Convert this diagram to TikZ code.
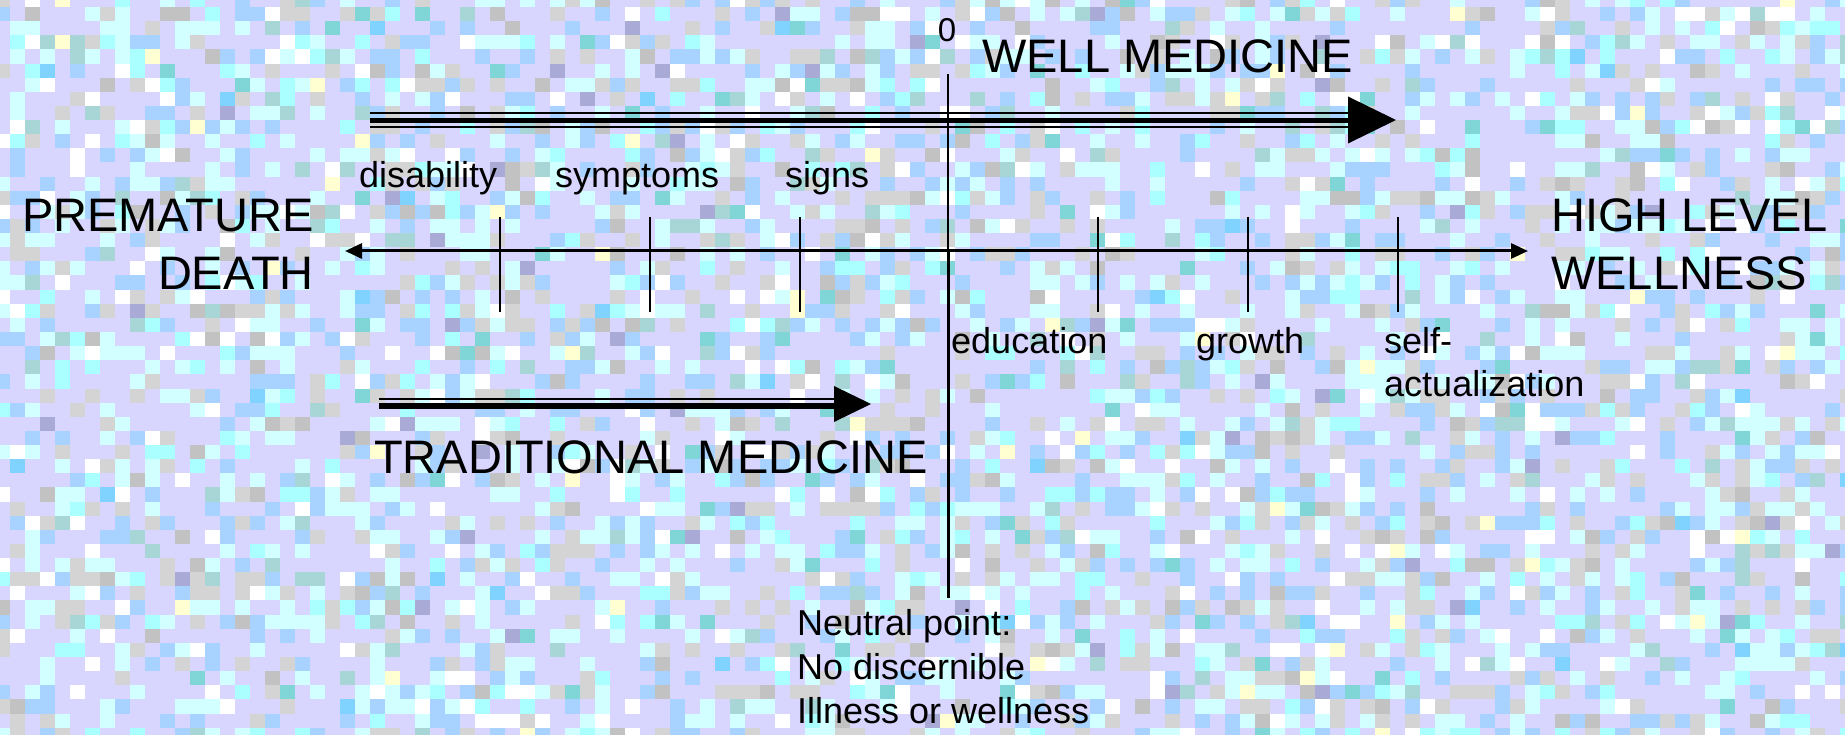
\documentclass[tikz,border=0pt]{standalone}
\usepackage{fontspec}
\setmainfont{Liberation Sans}
\usetikzlibrary{arrows.meta}
\definecolor{bgLav}{HTML}{D8D6FF}
\definecolor{tileA}{HTML}{D2FFFF}
\definecolor{tileB}{HTML}{A8D2FF}
\definecolor{tileC}{HTML}{D4D4D4}
\definecolor{tileD}{HTML}{A8D6D6}
\definecolor{tileE}{HTML}{AAFFFF}
\definecolor{tileF}{HTML}{FFFFFF}
\definecolor{tileG}{HTML}{80D6D6}
\definecolor{tileH}{HTML}{C2C2C2}
\definecolor{tileI}{HTML}{80D2FF}
\definecolor{tileK}{HTML}{FFFFD2}
\definecolor{tileL}{HTML}{AAAAD6}
\def\mypicktile#1{%
 \ifnum#1<74 \def\mytilec{}\else
 \ifnum#1<96 \def\mytilec{tileA}\else
 \ifnum#1<114 \def\mytilec{tileB}\else
 \ifnum#1<130 \def\mytilec{tileC}\else
 \ifnum#1<138 \def\mytilec{tileF}\else
 \ifnum#1<145 \def\mytilec{tileE}\else
 \ifnum#1<151 \def\mytilec{tileH}\else
 \ifnum#1<155 \def\mytilec{tileD}\else
 \ifnum#1<157 \def\mytilec{tileG}\else
 \ifnum#1<158 \def\mytilec{tileI}\else
 \ifnum#1<159 \def\mytilec{tileK}\else \def\mytilec{tileL}\fi\fi\fi\fi\fi\fi\fi\fi\fi\fi\fi}
\tikzset{
  big/.style={inner sep=0pt, font=\fontsize{47}{56}\selectfont},
  small/.style={inner sep=0pt, font=\fontsize{36}{43}\selectfont},
  axisline/.style={line width=3pt, {Triangle[length=17pt,width=15pt]}-{Triangle[length=17pt,width=15pt]}},
  tick/.style={line width=1.8pt},
  thinline/.style={line width=1.5pt},
  headfill/.style={fill=black},
}
\begin{document}
\begin{tikzpicture}[x=1pt,y=-1pt]
\useasboundingbox (0,0) rectangle (1845,735);
\begin{scope}
\clip (0,0) rectangle (1845,735);
\fill[bgLav] (0,0) rectangle (1845,735);
\pgfmathsetseed{4242}
\foreach \i in {-1,...,122}{\foreach \j in {-1,...,51}{%
  \pgfmathrandominteger{\r}{0}{159}%
  \mypicktile{\r}%
  \ifx\mytilec\empty\else
    \fill[\mytilec] (10+\i*15,7+\j*14.13) rectangle ++(15,14.13);
  \fi}}
\end{scope}

% coordinates
\coordinate (axL) at (345,251);
\coordinate (axR) at (1528,251);
\coordinate (vTop) at (948,74);
\coordinate (vMid) at (948,251);
\coordinate (vBot) at (948,598);
\coordinate (wellS) at (370,120);
\coordinate (wellB) at (1348,120);
\coordinate (wellT) at (1396,120);
\coordinate (tradS) at (379,404);
\coordinate (tradB) at (834,404);
\coordinate (tradT) at (871,404);
\foreach \x/\n in {500/t1,650/t2,800/t3,1098/t4,1248/t5,1398/t6}{
  \coordinate (\n a) at (\x,217);
  \coordinate (\n b) at (\x,312);
}

% axis
\draw[axisline] (axL) -- (axR);
\foreach \n in {t1,t2,t3,t4,t5,t6}{\draw[tick] (\n a) -- (\n b);}
\draw[line width=1.3pt] (vTop) -- (vMid);
\draw[line width=3pt] (vMid) -- (vBot);

% well medicine arrow
\draw[thinline] ([yshift=7pt]wellS) -- ([yshift=7pt]wellB);
\draw[line width=5.5pt] ([yshift=-0.5pt]wellS) -- ([yshift=-0.5pt]wellB);
\draw[thinline] ([yshift=-7pt]wellS) -- ([yshift=-7pt]wellB);
\fill[headfill] ([yshift=23.5pt]wellB) -- (wellT) -- ([yshift=-23.5pt]wellB) -- cycle;

% traditional medicine arrow
\draw[thinline] ([yshift=5pt]tradS) -- ([yshift=5pt]tradB);
\draw[line width=6.5pt] ([yshift=-2pt]tradS) -- ([yshift=-2pt]tradB);
\fill[headfill] ([yshift=18pt]tradB) -- (tradT) -- ([yshift=-18pt]tradB) -- cycle;

% labels
\node[inner sep=0pt, font=\fontsize{33}{40}\selectfont, anchor=base] (zero) at (947,42) {0};
\node[big, anchor=base west] (well) at (982,73) {WELL MEDICINE};
\node[big, anchor=base east] (prem1) at (314,232) {PREMATURE};
\node[big, anchor=base east] (prem2) at (314,289.5) {DEATH};
\node[big, anchor=base west] (high1) at (1551,232) {HIGH LEVEL};
\node[big, anchor=base west] (high2) at (1551,289.5) {WELLNESS};
\node[big, anchor=base west] (trad) at (374,473) {TRADITIONAL MEDICINE};

\node[small, anchor=base west] (dis) at (359,188) {disability};
\node[small, anchor=base west] (sym) at (555,188) {symptoms};
\node[small, anchor=base west] (sig) at (785,188) {signs};
\node[small, anchor=base west] (edu) at (951,353) {education};
\node[small, anchor=base west] (gro) at (1196,353) {growth};
\node[small, anchor=base west] (self1) at (1384,353) {self-};
\node[small, anchor=base west] (self2) at (1384,396.5) {actualization};
\node[small, anchor=base west] (neu1) at (797,635) {Neutral point:};
\node[small, anchor=base west] (neu2) at (797,679) {No discernible};
\node[small, anchor=base west] (neu3) at (797,723) {Illness or wellness};
\end{tikzpicture}
\end{document}
